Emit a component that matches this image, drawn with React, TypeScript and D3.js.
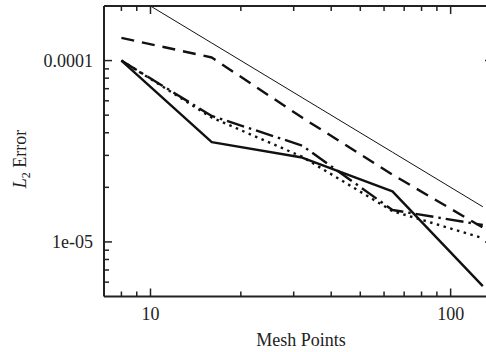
import React from "react";
import * as d3 from "d3";

const meshPoints = [8, 16, 32, 64, 128];
const solidErr = [1.0e-4, 3.55e-5, 2.92e-5, 1.9e-5, 5.7e-6];
const dashedErr = [1.335e-4, 1.04e-4, 4.85e-5, 2.35e-5, 1.2e-5];
const dashDotErr = [1.0e-4, 4.95e-5, 3.4e-5, 1.5e-5, 1.24e-5];
const dottedErr = [1.0e-4, 4.85e-5, 2.95e-5, 1.48e-5, 1.05e-5];
const slopeRefErr = [2.5e-4, 1.25e-4, 6.25e-5, 3.125e-5, 1.5625e-5];

const xMajor = [10, 100];
const xMinor = [8, 9, 20, 30, 40, 50, 60, 70, 80, 90];
const yMajor = [1e-5, 1e-4];
const yMinor = [6e-6, 7e-6, 8e-6, 9e-6, 2e-5, 3e-5, 4e-5, 5e-5, 6e-5, 7e-5, 8e-5, 9e-5];
const yTickText = ["1e-05", "0.0001"];
const xTickText = ["10", "100"];

const W = 486;
const H = 352;
const left = 104;
const right = 493;
const top = 6;
const bottom = 296.5;
const FONT = "'Liberation Serif', 'Times New Roman', serif";

export default function App() {
  const x = d3.scaleLog().domain([7, 138.4]).range([left, right]);
  const y = d3.scaleLog().domain([5e-6, 2e-4]).range([bottom, top]);
  const line = d3
    .line<[number, number]>()
    .x((d) => x(d[0]))
    .y((d) => y(d[1]));
  const pts = (vals: number[]) => meshPoints.map((m, i) => [m, vals[i]] as [number, number]);

  const series = [
    { vals: slopeRefErr, width: 1, dash: undefined },
    { vals: dashedErr, width: 2.4, dash: "13,8" },
    { vals: dashDotErr, width: 2.4, dash: "18,5,2.5,5" },
    { vals: dottedErr, width: 2.4, dash: "2.5,4.5" },
    { vals: solidErr, width: 2.4, dash: undefined },
  ];

  const majLen = 8;
  const minLen = 5;
  const axisColor = "#222";

  return (
    <svg
      width={W}
      height={H}
      style={{ position: "absolute", left: 0, top: 0, background: "#fff" }}
      fontFamily={FONT}
    >
      <defs>
        <clipPath id="plotArea">
          <rect x={left} y={top} width={right - left} height={bottom - top} />
        </clipPath>
      </defs>

      <g clipPath="url(#plotArea)" fill="none" stroke="#111">
        {series.map((s, i) => (
          <path
            key={i}
            d={line(pts(s.vals)) || ""}
            strokeWidth={s.width}
            strokeDasharray={s.dash}
            strokeLinejoin="round"
          />
        ))}
      </g>

      {/* frame */}
      <g stroke={axisColor} strokeWidth={2} fill="none">
        <line x1={left} y1={top} x2={right} y2={top} />
        <line x1={left} y1={bottom} x2={right} y2={bottom} />
        <line x1={left} y1={top} x2={left} y2={bottom} />
        <line x1={right} y1={top} x2={right} y2={bottom} />
      </g>

      {/* ticks on all four sides, pointing inward */}
      <g stroke={axisColor} strokeWidth={1.5}>
        {xMajor.concat(xMinor).map((v, i) => {
          const len = i < xMajor.length ? majLen : minLen;
          const px = x(v);
          return (
            <g key={`x${v}`}>
              <line x1={px} x2={px} y1={bottom} y2={bottom - len} />
              <line x1={px} x2={px} y1={top} y2={top + len} />
            </g>
          );
        })}
        {yMajor.concat(yMinor).map((v, i) => {
          const len = i < yMajor.length ? majLen : minLen;
          const py = y(v);
          return (
            <g key={`y${v}`}>
              <line x1={left} x2={left + len} y1={py} y2={py} />
              <line x1={right} x2={right - len} y1={py} y2={py} />
            </g>
          );
        })}
      </g>

      {/* tick labels */}
      <g fontSize={18} fill="#222">
        {yMajor.map((v, i) => (
          <text key={`yl${v}`} x={93} y={y(v)} textAnchor="end" dominantBaseline="central">
            {yTickText[i]}
          </text>
        ))}
        {xMajor.map((v, i) => (
          <text key={`xl${v}`} x={x(v)} y={320} textAnchor="middle">
            {xTickText[i]}
          </text>
        ))}
      </g>

      {/* axis titles */}
      <text x={301} y={346} textAnchor="middle" fontSize={18} fill="#222">
        Mesh Points
      </text>
      <text transform="translate(26,159) rotate(-90)" textAnchor="middle" fontSize={18} fill="#222">
        <tspan fontStyle="italic">L</tspan>
        <tspan fontSize={12} dy={4}>2</tspan>
        <tspan dy={-4}> Error</tspan>
      </text>
    </svg>
  );
}
